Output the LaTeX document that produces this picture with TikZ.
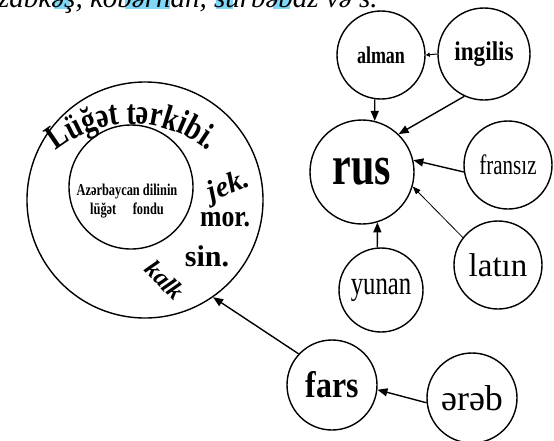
\documentclass[tikz,border=0pt]{standalone}
\usepackage{fontspec}
\setmainfont{Liberation Serif}
\newfontfamily\condA[FakeStretch=0.86]{Liberation Serif}
\newfontfamily\condB[FakeStretch=0.75]{Liberation Serif}
\newfontfamily\condC[FakeStretch=0.8]{Liberation Serif}
\usetikzlibrary{arrows.meta,decorations.text}
\tikzset{
  lang/.style={circle,draw,line width=1.4pt,inner sep=0pt},
  ring/.style={circle,draw,line width=1.4pt,inner sep=0pt},
  arr/.style={line width=1.4pt,-{Triangle[length=10pt,width=8pt]}},
  thinarr/.style={line width=0.8pt,-{Triangle[length=8pt,width=6pt]}},
  tinyarr/.style={line width=1pt,-{Triangle[length=4pt,width=4pt]}},
  hl/.style={fill=cyan!50,draw=none},
}
\begin{document}
\begin{tikzpicture}[x=1pt,y=1pt]
\useasboundingbox (0,0) rectangle (554,-440);
\clip (0,0) rectangle (554,-440);
% top clipped line
\fill[hl] (54,0) rectangle (70,-9);
\fill[hl] (125,0) rectangle (170,-9);
\fill[hl] (216,0) rectangle (233,-9);
\fill[hl] (273,0) rectangle (290,-9);
\node[anchor=base west,inner sep=0pt,font=\fontsize{29}{29}\selectfont\itshape] (top) at (-2,-7) {zabkəş, kobərnan, sürbəbaz və s.};
% left diagram
\node[ring,minimum size=236pt] (outer) at (145,-200) {};
\node[ring,minimum size=124pt] (inner) at (131,-187) {};
\node[align=center,inner sep=0pt,font=\fontsize{16.5}{19}\selectfont\condB\bfseries] (fond) at (127,-201) {Azərbaycan dilinin\\lüğət\quad fondu};
\path[decorate,decoration={text along path,text align=center,
  text={|\fontsize{35}{35}\selectfont\condC\bfseries|Lüğət tərkibi.}}]
  (49.5,-156.5) arc[start angle=133,end angle=47,radius=121];
\node[rotate=22,inner sep=0pt,font=\fontsize{29}{29}\selectfont\bfseries\itshape] (jek) at (229,-187) {jek.};
\node[inner sep=0pt,font=\fontsize{30}{30}\selectfont\condA\bfseries] (mor) at (225,-220) {mor.};
\node[inner sep=0pt,font=\fontsize{30}{30}\selectfont\bfseries] (sin) at (207,-256) {sin.};
\node[rotate=-45,inner sep=0pt,font=\fontsize{25}{25}\selectfont\bfseries\itshape] (kalk) at (165,-280) {kalk};
% right diagram
\node[lang,minimum size=88pt] (alman) at (381,-55) {\fontsize{24}{24}\selectfont\condB\bfseries alman};
\node[lang,minimum size=92pt] (ingilis) at (484,-54) {\fontsize{27}{27}\selectfont\condA\bfseries ingilis};
\node[lang,minimum size=104pt] (rus) at (362,-172) {\fontsize{56}{56}\selectfont\condB\bfseries rus};
\node[lang,minimum size=88pt] (fransiz) at (508,-165) {\fontsize{28}{28}\selectfont\condB fransız};
\node[lang,minimum size=88pt] (latin) at (498,-265) {\fontsize{33}{33}\selectfont latın};
\node[lang,minimum size=84pt] (yunan) at (381,-290) {\fontsize{33}{33}\selectfont\condB yunan};
\node[lang,minimum size=90pt] (fars) at (332,-385) {\fontsize{37}{37}\selectfont\condA\bfseries fars};
\node[lang,minimum size=90pt] (ereb) at (472,-398) {\fontsize{36}{36}\selectfont ərəb};
% connectors
\draw[tinyarr] (ingilis.west) -- (alman.east);
\draw[arr] (alman.-98) -- (rus.76);
\draw[arr] (ingilis.245) -- (rus.46);
\draw[arr] (fransiz.189) -- (rus.13);
\draw[thinarr] (latin.142) -- (rus.-16);
\draw[arr] (yunan.95) -- (rus.-73);
\draw[arr] (ereb.186) -- (fars.-6);
\draw[arr] (fars.137) -- (outer.-55);
\end{tikzpicture}
\end{document}
